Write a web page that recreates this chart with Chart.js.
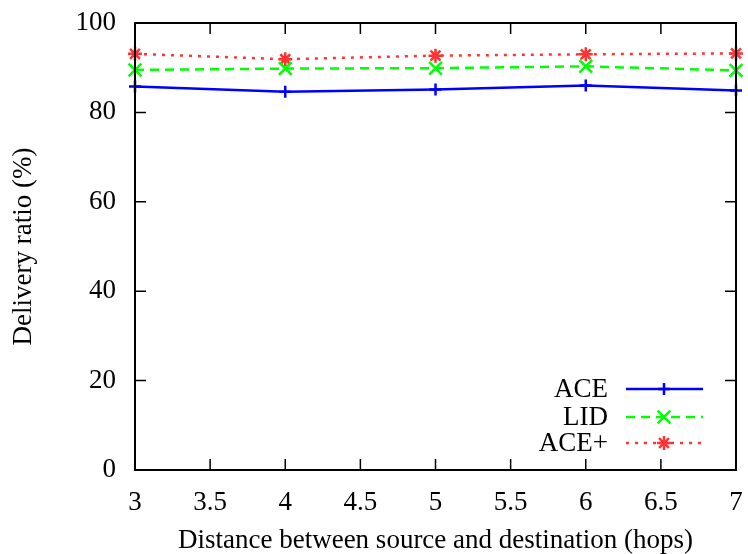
<!DOCTYPE html>
<html>
<head>
<meta charset="utf-8">
<script src="https://cdn.jsdelivr.net/npm/chart.js@4/dist/chart.umd.min.js"></script>
<style>
  html, body { margin: 0; padding: 0; background: #fff; }
  #wrap { width: 748px; height: 554px; }
</style>
</head>
<body>
<div id="wrap"><canvas id="deliveryChart" width="748" height="554"></canvas></div>
<script>
// hops between source and destination
var hops = [3, 4, 5, 6, 7];
var aceValues = [85.8, 84.6, 85.1, 86.0, 84.9];
var lidValues = [89.5, 89.8, 89.9, 90.3, 89.4];
var acePlusValues = [93.1, 91.9, 92.7, 93.0, 93.2];
var xTicks = [3, 3.5, 4, 4.5, 5, 5.5, 6, 6.5, 7];
var yTicks = [0, 20, 40, 60, 80, 100];

var serif = "'Liberation Serif', 'DejaVu Serif', serif";
var fontSize = 27;

function toPoints(vals) {
    return hops.map(function (h, i) { return { x: h, y: vals[i] }; });
}

function drawMarker(ctx, style, x, y, r) {
    ctx.beginPath();
    if (style === 'cross' || style === 'star') {
        ctx.moveTo(x - r, y); ctx.lineTo(x + r, y);
        ctx.moveTo(x, y - r); ctx.lineTo(x, y + r);
    }
    if (style === 'crossRot' || style === 'star') {
        var d = r * Math.SQRT1_2;
        ctx.moveTo(x - d, y - d); ctx.lineTo(x + d, y + d);
        ctx.moveTo(x - d, y + d); ctx.lineTo(x + d, y - d);
    }
    ctx.stroke();
}

// gnuplot style box with inward ticks on every side
var framePlugin = {
    id: 'frame',
    afterDraw: function (chart) {
        var ctx = chart.ctx, a = chart.chartArea;
        var xs = chart.scales.x, ys = chart.scales.y;
        var tl = 11;
        ctx.save();
        ctx.strokeStyle = '#000';
        ctx.lineWidth = 1.5;
        ctx.beginPath();
        xTicks.forEach(function (v) {
            var px = xs.getPixelForValue(v);
            ctx.moveTo(px, a.bottom); ctx.lineTo(px, a.bottom - tl);
            ctx.moveTo(px, a.top); ctx.lineTo(px, a.top + tl);
        });
        yTicks.forEach(function (v) {
            var py = ys.getPixelForValue(v);
            ctx.moveTo(a.left, py); ctx.lineTo(a.left + tl, py);
            ctx.moveTo(a.right, py); ctx.lineTo(a.right - tl, py);
        });
        ctx.stroke();
        ctx.lineWidth = 2;
        ctx.strokeRect(a.left, a.top, a.right - a.left, a.bottom - a.top);
        ctx.restore();
    }
};

// key in the lower right corner, text on the left of the sample
var keyPlugin = {
    id: 'key',
    afterDatasetsDraw: function (chart) {
        var ctx = chart.ctx, a = chart.chartArea;
        var rows = [a.bottom - 81, a.bottom - 53, a.bottom - 27];
        ctx.save();
        ctx.font = fontSize + 'px ' + serif;
        ctx.textAlign = 'right';
        ctx.textBaseline = 'middle';
        chart.data.datasets.forEach(function (ds, i) {
            var y = rows[i];
            ctx.fillStyle = '#000';
            ctx.fillText(ds.label, 608, y + 1);
            ctx.strokeStyle = ds.borderColor;
            ctx.lineWidth = ds.borderWidth;
            ctx.setLineDash(ds.borderDash || []);
            ctx.beginPath();
            ctx.moveTo(626, y); ctx.lineTo(703, y);
            ctx.stroke();
            ctx.setLineDash([]);
            ctx.lineWidth = ds.pointBorderWidth;
            drawMarker(ctx, ds.pointStyle, 664, y, ds.pointRadius);
        });
        ctx.restore();
    }
};

var ctx = document.getElementById('deliveryChart');
var chart = new Chart(ctx, {
    type: 'line',
    data: {
        datasets: [{
            label: 'ACE',
            data: toPoints(aceValues),
            borderColor: '#0000ff',
            borderWidth: 2.5,
            pointStyle: 'cross',
            pointRadius: 6,
            pointBorderWidth: 2.5,
            pointBorderColor: '#0000ff',
            fill: false,
            clip: false
        }, {
            label: 'LID',
            data: toPoints(lidValues),
            borderColor: '#00ff00',
            borderWidth: 2.5,
            borderDash: [9, 6],
            pointStyle: 'crossRot',
            pointRadius: 9,
            pointBorderWidth: 2.5,
            pointBorderColor: '#00ff00',
            fill: false,
            clip: false
        }, {
            label: 'ACE+',
            data: toPoints(acePlusValues),
            borderColor: '#ff3333',
            borderWidth: 2.5,
            borderDash: [3, 6],
            pointStyle: 'star',
            pointRadius: 7,
            pointBorderWidth: 2.5,
            pointBorderColor: '#ff3333',
            fill: false,
            clip: false
        }]
    },
    options: {
        responsive: false,
        animation: false,
        layout: { padding: { top: 23, right: 12, left: 0, bottom: 0 } },
        plugins: {
            legend: { display: false },
            tooltip: { enabled: false }
        },
        elements: { line: { tension: 0 } },
        scales: {
            x: {
                type: 'linear',
                min: 3,
                max: 7,
                afterFit: function (s) {
                    s.height = 84;
                    s.paddingLeft = 0;
                    s.paddingRight = 0;
                },
                afterBuildTicks: function (s) {
                    s.ticks = xTicks.map(function (v) { return { value: v }; });
                },
                grid: { display: false },
                border: { display: false },
                ticks: {
                    color: '#000',
                    padding: 9,
                    font: { family: serif, size: fontSize },
                    callback: function (v) { return String(v); }
                },
                title: {
                    display: true,
                    text: 'Distance between source and destination (hops)',
                    color: '#000',
                    font: { family: serif, size: fontSize, lineHeight: 1 },
                    padding: { top: 0, bottom: 0 }
                }
            },
            y: {
                min: 0,
                max: 100,
                afterFit: function (s) {
                    s.width = 135;
                    s.paddingTop = 0;
                    s.paddingBottom = 0;
                },
                afterBuildTicks: function (s) {
                    s.ticks = yTicks.map(function (v) { return { value: v }; });
                },
                grid: { display: false },
                border: { display: false },
                ticks: {
                    color: '#000',
                    padding: 11,
                    font: { family: serif, size: fontSize }
                },
                title: {
                    display: true,
                    text: 'Delivery ratio (%)',
                    color: '#000',
                    font: { family: serif, size: fontSize },
                    padding: { top: 8, bottom: 0 }
                }
            }
        }
    },
    plugins: [framePlugin, keyPlugin]
});
</script>
</body>
</html>
